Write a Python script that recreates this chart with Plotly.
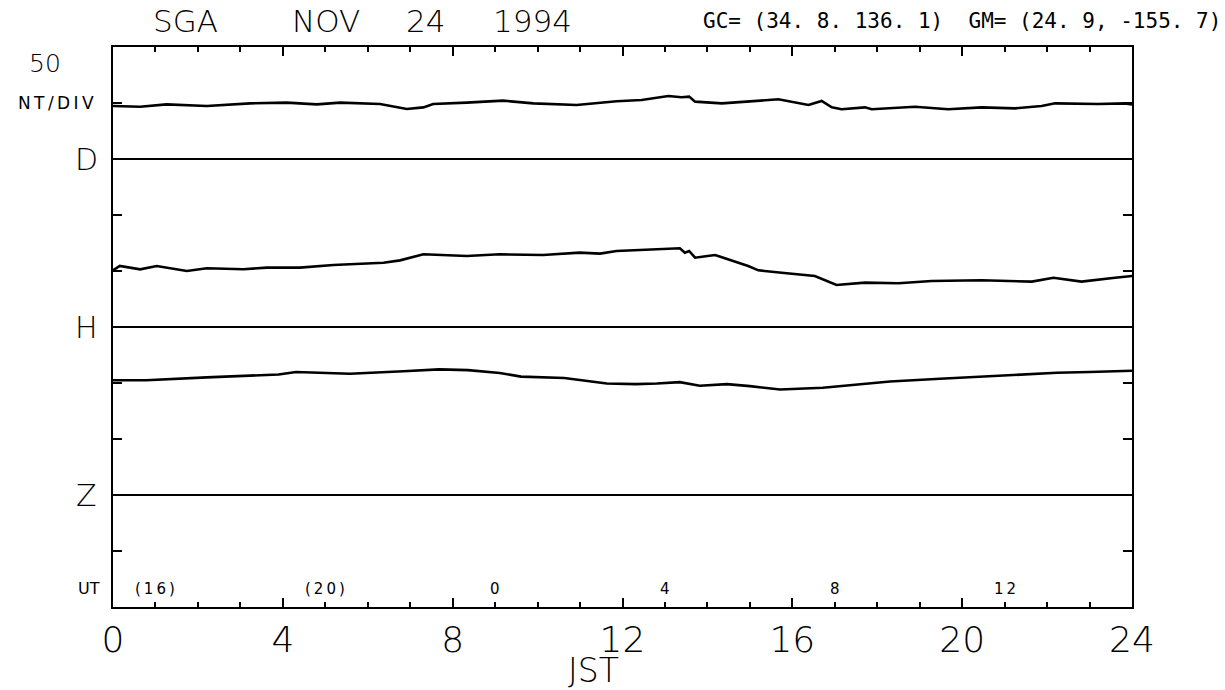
import plotly.graph_objects as go

# ---- data (hours JST, nT offset above each component's baseline) ----
D_hours = [0, 0.64, 1.26, 2.21, 3.23, 4.09, 4.8, 5.35, 6.29, 6.92, 7.31, 7.54, 8.33, 9.19, 9.9, 10.92,
           11.86, 12.45, 13.08, 13.39, 13.57, 13.71, 14.34, 15.67, 16.38, 16.69, 16.93, 17.16, 17.71,
           17.87, 18.89, 19.67, 20.46, 21.24, 21.87, 22.19, 23.21, 23.83, 24]
D_nT = [47.3, 46.7, 48.8, 47.3, 49.7, 50.3, 48.8, 50.3, 49.1, 44.6, 46.1, 49.1, 50.3, 52.1, 49.7, 48.2,
        51.6, 52.7, 56.3, 55.1, 55.7, 51.2, 49.7, 53.3, 48.2, 51.8, 46.1, 44.4, 46.1,
        44.4, 46.7, 44.4, 46.1, 45.2, 47.3, 49.7, 49.1, 49.7, 48.8]

H_hours = [0, 0.16, 0.64, 1.03, 1.74, 2.21, 3.07, 3.62, 4.4, 5.19, 6.37, 6.76, 7.31, 8.33, 9.11, 10.13,
           10.99, 11.47, 11.86, 12.61, 13.35, 13.47, 13.57, 13.71, 14.18, 14.96, 15.2, 15.75, 16.53,
           17.04, 17.71, 18.5, 19.28, 20.46, 21.64, 22.15, 22.81, 23.6, 24]
H_nT = [50.6, 54.5, 51.5, 54.5, 50, 52.4, 51.5, 53, 53, 55.4, 57.4, 59.5, 64.9, 63.4, 64.9, 64.3,
        66.4, 65.5, 67.9, 69.4, 70.3, 66.4, 67.9, 61.9, 64.3, 54.5, 50.6, 48.5, 45.5,
        37.5, 39.6, 39, 41.1, 41.7, 40.5, 44, 40.5, 44, 45.5]

Z_hours = [0, 0.78, 2.21, 3.9, 4.31, 5.58, 6.84, 7.68, 8.36, 9.11, 9.61, 10.63, 11.63, 12.31, 12.81,
           13.35, 13.82, 14.46, 15.0, 15.71, 16.72, 17.52, 18.3, 19.48, 20.26, 21.43, 22.23, 23.0, 23.79, 24]
Z_nT = [102.5, 102.5, 105, 107.6, 109.8, 108.2, 110.5, 112.2, 111.5, 108.9, 105.7, 104.4, 99.5, 99, 99.5,
        100.8, 97.5, 99, 97.2, 94.2, 95.8, 98.4, 101.4, 103.8, 105.3, 108.2, 109.1, 109.8, 111, 111]

components = ["D", "H", "Z"]
baselines = [400, 250, 100]
x_ticks = [0, 4, 8, 12, 16, 20, 24]
ut_hours = [1, 5, 9, 13, 17, 21]
ut_labels = ["(16)", "(20)", "0", "4", "8", "12"]

# ---- geometry (page pixels; body margin removed below) ----
FIG_W, FIG_H = 1225, 690
L, R, T, B = 113, 1132, 47, 607  # plot area in page pixels
W, H = R - L, B - T


def px(x):
    return (x - L) / W


def py(y):
    return (B - y) / H


FONT = "DejaVu Sans"
TS = "\u2009"  # thin space for the wide plotter lettering
fig = go.Figure()

series = [(D_hours, D_nT), (H_hours, H_nT), (Z_hours, Z_nT)]
for i, (name, base, (hh, vv)) in enumerate(zip(components, baselines, series)):
    fig.add_trace(go.Scatter(x=[0, 24], y=[base, base], mode="lines",
                             xaxis="x2" if i == 0 else "x",
                             line=dict(color="black", width=2), showlegend=False, hoverinfo="skip"))
    fig.add_trace(go.Scatter(x=hh, y=[base + v for v in vv], mode="lines", name=name,
                             line=dict(color="black", width=2.6), showlegend=False))

tick_common = dict(ticks="inside", ticklen=9, tickwidth=2, tickcolor="black",
                   minor=dict(dtick=1, tick0=0, ticks="inside", ticklen=5, tickwidth=2, tickcolor="black"),
                   showline=True, linewidth=2, linecolor="black", showgrid=False, zeroline=False)

fig.update_layout(
    xaxis=dict(range=[0, 24], tickvals=x_ticks, ticktext=[str(t) for t in x_ticks],
               tickfont=dict(family=FONT, size=36, color="black", weight=200),
               ticklabelstandoff=0, **tick_common),
    xaxis2=dict(range=[0, 24], tickvals=x_ticks, overlaying="x", side="top", matches="x",
                showticklabels=False, **tick_common),
    yaxis=dict(range=[0, 500], dtick=50, tick0=0, ticks="inside", ticklen=9, tickwidth=2,
               tickcolor="black", showticklabels=False,
               showline=True, linewidth=2, linecolor="black", mirror="ticks",
               showgrid=False, zeroline=False),
)

ann = []


def txt(text, x, y, size, anchor="center", family=FONT, weight=200):
    ann.append(dict(text=text, x=px(x), y=py(y), xref="paper", yref="paper", showarrow=False,
                    xanchor=anchor, yanchor="middle", borderpad=0,
                    font=dict(family=family, size=size, color="black", weight=weight)))


txt("SGA", 185, 21, 31)
txt("NOV", 326, 21, 31)
txt("24", 425, 21, 31)
txt("1994", 532, 21, 31)
txt("GC= (34. 8. 136. 1)  GM= (24. 9, -155. 7)", 1222, 21, 21, anchor="right",
    family="DejaVu Sans Mono", weight=400)
txt("50", 45, 63, 25)
txt(TS.join("NT/DIV"), 56, 103, 17, weight=400)
for name, base in zip(components, baselines):
    ann.append(dict(text=name, x=px(86), y=base, xref="paper", yref="y", showarrow=False,
                    xanchor="center", yanchor="middle",
                    font=dict(family=FONT, size=30, color="black", weight=200)))
txt("UT", 89, 588, 16, weight=400)
for h, lab in zip(ut_hours, ut_labels):
    ann.append(dict(text=TS.join(lab), x=h, y=py(589), xref="x", yref="paper", showarrow=False,
                    xanchor="center", yanchor="middle", font=dict(family=FONT, size=15, color="black")))
txt("JST", 593, 670, 33)

fig.update_layout(width=FIG_W, height=FIG_H,
                  margin=dict(l=L, r=FIG_W - R, t=T, b=FIG_H - B),
                  paper_bgcolor="white", plot_bgcolor="white", annotations=ann)

fig.write_html("out.html", config={"displayModeBar": False},
               post_script="document.body.style.margin='0';document.body.style.overflow='hidden';")
